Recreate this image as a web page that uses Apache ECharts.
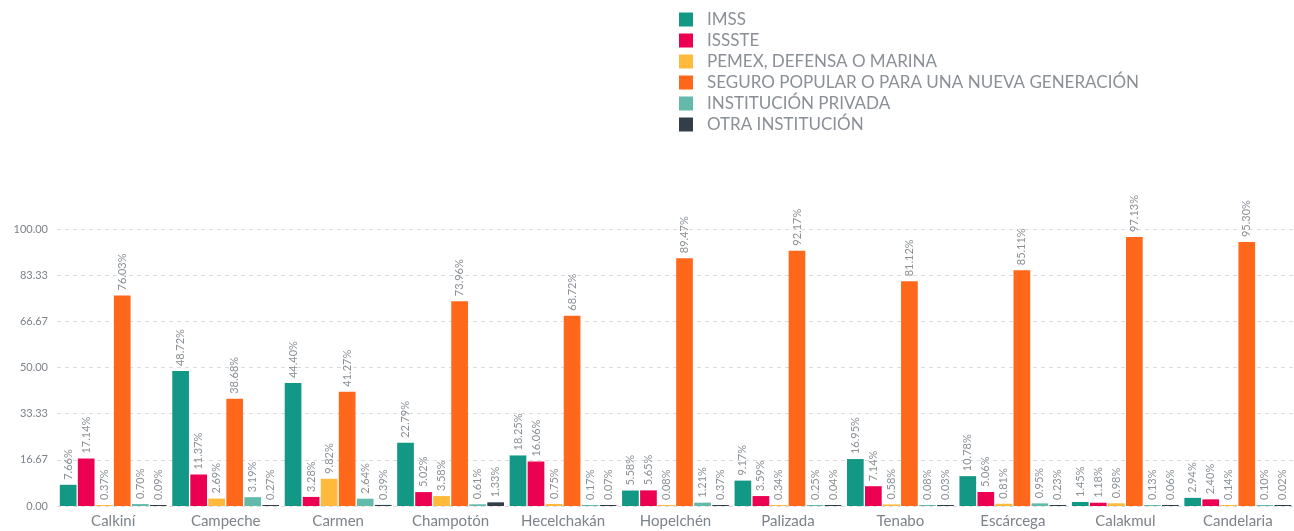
<!DOCTYPE html>
<html><head><meta charset="utf-8">
<script src="https://cdn.jsdelivr.net/npm/echarts@6/dist/echarts.min.js"></script>
<style>html,body{margin:0;padding:0;background:#fff}#c{width:1294px;height:531px}</style>
</head><body><div id="c"></div>
<script>
const categories = ['Calkiní','Campeche','Carmen','Champotón','Hecelchakán','Hopelchén','Palizada','Tenabo','Escárcega','Calakmul','Candelaria'];
const seriesNames = ['IMSS','ISSSTE','PEMEX, DEFENSA O MARINA','SEGURO POPULAR O PARA UNA NUEVA GENERACIÓN','INSTITUCIÓN PRIVADA','OTRA INSTITUCIÓN'];
const imss    = [7.66, 48.72, 44.40, 22.79, 18.25, 5.58, 9.17, 16.95, 10.78, 1.45, 2.94];
const issste  = [17.14, 11.37, 3.28, 5.02, 16.06, 5.65, 3.59, 7.14, 5.06, 1.18, 2.40];
const pemex   = [0.37, 2.69, 9.82, 3.58, 0.75, 0.08, 0.34, 0.58, 0.81, 0.98, 0.14];
const seguro  = [76.03, 38.68, 41.27, 73.96, 68.72, 89.47, 92.17, 81.12, 85.11, 97.13, 95.30];
const privada = [0.70, 3.19, 2.64, 0.61, 0.17, 1.21, 0.25, 0.08, 0.95, 0.13, 0.10];
const otra    = [0.09, 0.27, 0.39, 1.33, 0.07, 0.37, 0.04, 0.03, 0.23, 0.06, 0.02];
const colors = ['#139886','#EC0051','#FFBA3B','#FF671A','#63BAAB','#323E48'];
const allData = [imss, issste, pemex, seguro, privada, otra];

const chart = echarts.init(document.getElementById('c'));
const font = 'Lato, "Noto Sans", sans-serif';
chart.setOption({
  animation: false,
  color: colors,
  textStyle: {fontFamily: font},
  legend: {
    orient: 'vertical', left: 674, top: 6,
    itemWidth: 14, itemHeight: 14, itemGap: 4,
    icon: 'rect',
    textStyle: {fontSize: 17, color: '#8a9096', fontFamily: font, padding: [0,0,0,9]},
    data: seriesNames
  },
  grid: {left: 57, right: 0, top: 229, bottom: 25},
  xAxis: {
    type: 'category', data: categories,
    axisLine: {show: false}, axisTick: {show: false},
    axisLabel: {color: '#7d838a', fontSize: 15, margin: 8, fontFamily: font}
  },
  yAxis: {
    type: 'value', min: 0, max: 100, interval: 100/6,
    axisLine: {show: false}, axisTick: {show: false},
    axisLabel: {color: '#7d838a', fontSize: 11, margin: 9, formatter: v => v.toFixed(2), fontFamily: font},
    splitLine: {lineStyle: {type: [4,4], color: '#dcdcdc'}}
  },
  series: seriesNames.map((n, i) => ({
    name: n, type: 'bar', data: allData[i],
    barGap: '8%', barCategoryGap: '5%', barMinHeight: 1,
    itemStyle: {color: colors[i]},
    label: {
      show: true, position: 'top', rotate: 90, align: 'left', verticalAlign: 'middle',
      distance: 5, fontSize: 11, color: '#8a9096', fontFamily: font,
      formatter: p => p.value.toFixed(2) + '%'
    }
  }))
});
</script></body></html>
